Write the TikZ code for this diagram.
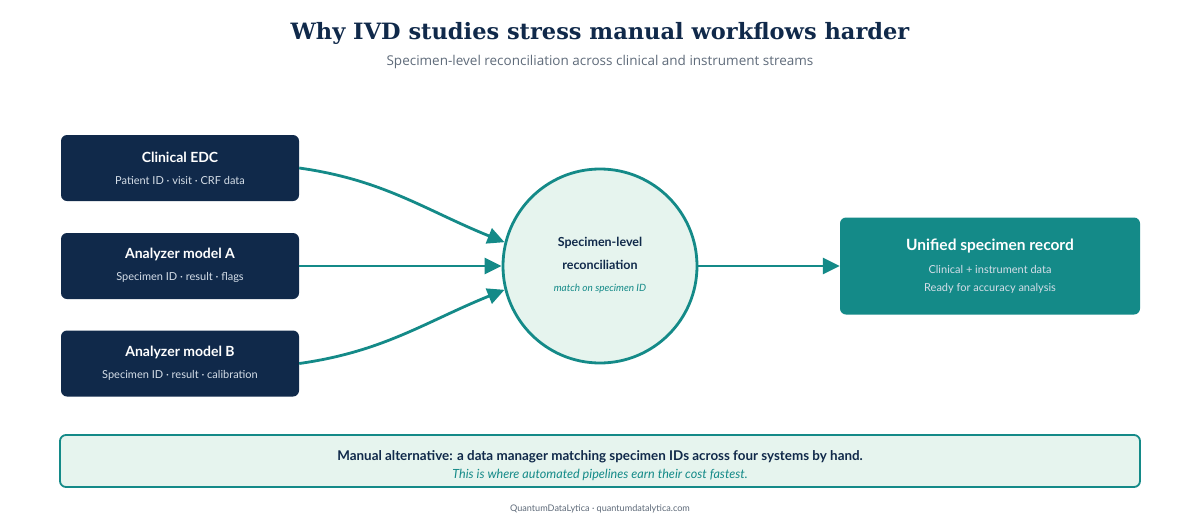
\documentclass[tikz,border=0pt]{standalone}
\usepackage{fontspec}
\setmainfont{Lato}
\newfontfamily\titlefont{DejaVu Serif}
\newfontfamily\subfont{Open Sans}
\usetikzlibrary{arrows.meta}
\definecolor{navy}{HTML}{10294A}
\definecolor{teal}{HTML}{148A88}
\definecolor{mint}{HTML}{E6F4EE}
\definecolor{greytxt}{HTML}{5F6B7A}
\definecolor{lightt}{HTML}{D5DEE8}
\begin{document}
\begin{tikzpicture}[x=1pt,y=-1pt,
  srcbox/.style={fill=navy, rounded corners=6pt, minimum width=238pt, minimum height=66pt, inner sep=0pt},
  conn/.style={teal, line width=2.8pt, -{Triangle[length=17pt,width=16pt]}},
  boxtitle/.style={text=white, font=\bfseries\fontsize{14}{16}\selectfont},
  boxsub/.style={text=lightt, font=\fontsize{11}{13}\selectfont}]
\useasboundingbox (0,0) rectangle (1200,525);
\fill[white] (0,0) rectangle (1200,525);
\node[text=navy, font=\titlefont\bfseries\fontsize{22.5}{26}\selectfont] (title) at (600,33) {Why IVD studies stress manual workflows harder};
\node[text=greytxt, font=\subfont\fontsize{13.5}{15}\selectfont] (subtitle) at (600,62) {Specimen-level reconciliation across clinical and instrument streams};

\node[srcbox] (e1) at (180,168) {};
\node[srcbox] (e2) at (180,266) {};
\node[srcbox] (e3) at (180,363.5) {};
\node[boxtitle] (e1t) at (180,157) {Clinical EDC};
\node[boxsub] (e1s) at (180,180) {Patient ID · visit · CRF data};
\node[boxtitle] (e2t) at (180,254) {Analyzer model A};
\node[boxsub] (e2s) at (180,277) {Specimen ID · result · flags};
\node[boxtitle] (e3t) at (180,352) {Analyzer model B};
\node[boxsub] (e3s) at (180,375) {Specimen ID · result · calibration};

\node[circle, draw=teal, line width=2.8pt, fill=mint, minimum size=194pt, inner sep=0pt] (circ) at (600,266) {};
\node[text=navy, font=\bfseries\fontsize{12.5}{15}\selectfont] (c1) at (600,243) {Specimen-level};
\node[text=navy, font=\bfseries\fontsize{12.5}{15}\selectfont] (c2) at (600,265) {reconciliation};
\node[text=teal, font=\itshape\fontsize{10}{12}\selectfont] (c3) at (600,289) {match on specimen ID};

\draw[conn] (e1.east) to[out=-8, in=158] (circ.166);
\draw[conn] (e2.east) -- (circ.west);
\draw[conn] (e3.east) to[out=8, in=-158] (circ.194);

\node[fill=teal, rounded corners=6pt, minimum width=300pt, minimum height=97pt, inner sep=0pt] (uni) at (990,266) {};
\node[text=white, font=\bfseries\fontsize{15.5}{18}\selectfont] (ut) at (990,246) {Unified specimen record};
\node[text=lightt, font=\fontsize{11}{13}\selectfont] (u1) at (990,269) {Clinical + instrument data};
\node[text=lightt, font=\fontsize{11}{13}\selectfont] (u2) at (990,288) {Ready for accuracy analysis};
\draw[conn] (circ.east) -- (uni.west);

\node[draw=teal, line width=1.8pt, fill=mint, rounded corners=6pt, minimum width=1080pt, minimum height=52pt, inner sep=0pt] (manual) at (600,461) {};
\node[text=navy, font=\bfseries\fontsize{13.4}{15}\selectfont] (m1) at (600,457) {Manual alternative: a data manager matching specimen IDs across four systems by hand.};
\node[text=teal, font=\itshape\fontsize{12.6}{14}\selectfont] (m2) at (600,475) {This is where automated pipelines earn their cost fastest.};
\node[text=greytxt, font=\fontsize{9.1}{10}\selectfont] (foot) at (600,509) {QuantumDataLytica · quantumdatalytica.com};
\end{tikzpicture}
\end{document}
